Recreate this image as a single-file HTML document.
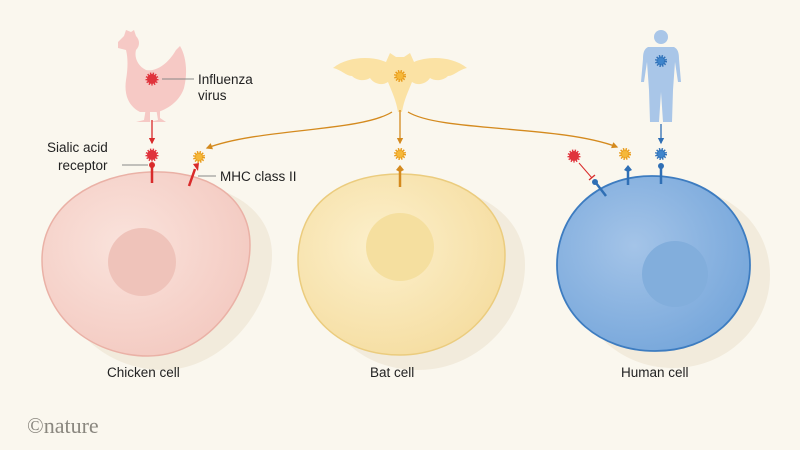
<!DOCTYPE html>
<html><head><meta charset="utf-8"><style>
html,body{margin:0;padding:0;background:#faf7ee;}
svg{display:block;}
text{font-family:"Liberation Sans",sans-serif;fill:#222;}
</style></head><body>
<svg width="800" height="450" viewBox="0 0 800 450" xmlns="http://www.w3.org/2000/svg">
<defs>
<radialGradient id="gc" cx="0.4" cy="0.4" r="0.7"><stop offset="0" stop-color="#fae3dc"/><stop offset="1" stop-color="#f3c8bf"/></radialGradient>
<radialGradient id="gb" cx="0.4" cy="0.4" r="0.7"><stop offset="0" stop-color="#fcf0cc"/><stop offset="1" stop-color="#f5dc9e"/></radialGradient>
<radialGradient id="gh" cx="0.4" cy="0.4" r="0.7"><stop offset="0" stop-color="#a4c4e8"/><stop offset="1" stop-color="#74a5da"/></radialGradient>
<marker id="ar" viewBox="0 0 10 10" refX="8" refY="5" markerWidth="5" markerHeight="5" orient="auto"><path d="M0,0L10,5L0,10z" fill="#d92b2b"/></marker>
<marker id="ao" viewBox="0 0 10 10" refX="8" refY="5" markerWidth="5" markerHeight="5" orient="auto"><path d="M0,0L10,5L0,10z" fill="#d48a1e"/></marker>
<marker id="abl" viewBox="0 0 10 10" refX="8" refY="5" markerWidth="5" markerHeight="5" orient="auto"><path d="M0,0L10,5L0,10z" fill="#2f6fb5"/></marker>
</defs>
<rect width="800" height="450" fill="#faf7ee"/>
<!-- shadows -->
<path d="M165,182 C220,180 272,205 272,255 C272,310 222,370 163,370 C105,370 57,325 57,270 C57,215 110,184 165,182Z" fill="#f2ebdc"/>
<path d="M418,185 C478,185 525,215 525,265 C525,320 478,370 418,370 C358,370 316,325 316,270 C316,215 358,185 418,185Z" fill="#f2ebdc"/>
<path d="M670,186 C728,186 770,225 770,275 C770,325 728,368 673,368 C618,368 575,325 575,275 C575,225 613,186 670,186Z" fill="#f2ebdc"/>
<!-- chicken cell -->
<path d="M150,172 C205,170 250,195 250,245 C250,300 205,356 148,356 C90,356 42,315 42,260 C42,205 95,174 150,172Z" fill="url(#gc)" stroke="#eab1a6" stroke-width="1.5"/>
<circle cx="142" cy="262" r="34" fill="#efc3ba"/>
<!-- bat cell -->
<path d="M400,174 C460,174 505,205 505,255 C505,310 460,355 400,355 C340,355 298,315 298,260 C298,205 340,174 400,174Z" fill="url(#gb)" stroke="#ebcc7e" stroke-width="1.5"/>
<circle cx="400" cy="247" r="34" fill="#f5df9f"/>
<!-- human cell -->
<path d="M652,176 C710,176 750,215 750,265 C750,315 710,351 655,351 C600,351 557,315 557,265 C557,215 595,176 652,176Z" fill="url(#gh)" stroke="#3d7cc0" stroke-width="1.8"/>
<circle cx="675" cy="274" r="33" fill="#82aedc"/>
<!-- chicken silhouette -->
<g fill="#f6c9c5">
<path d="M118,42 L124,36 L126,30 L131,32 L134,30 L136,36 C140,40 140,46 136,50 C134,58 138,66 146,70 C156,72 168,64 176,50 L180,46 C186,56 188,72 184,88 C180,100 170,108 158,112 L140,112 C128,106 124,94 126,80 C128,68 128,58 126,50 L118,48Z"/>
<path d="M146,108 L144,120 L136,122 L150,122 L150,108Z M156,108 L158,120 L150,122 L166,122 L160,118 L160,108Z"/>
</g>
<!-- bat -->
<path d="M333,68 C348,56 372,56 386,62 L390,53 L396,57 L404,57 L410,53 L414,62 C428,56 452,56 467,68 C458,70 454,76 448,76 C444,80 436,82 430,78 C426,84 418,86 412,82 C408,92 404,100 402,112 L398,112 C396,100 392,92 388,82 C382,86 374,84 370,78 C364,82 356,80 352,76 C346,76 342,70 333,68Z" fill="#fbe2a4"/>
<!-- human -->
<g fill="#a9c6e8">
<circle cx="661" cy="37" r="7"/>
<path d="M648,47 L674,47 C678,49 679,53 679,59 L681,82 L678,82 L675,62 L673,90 L672,122 L663,122 L661,92 L659,122 L650,122 L649,90 L647,62 L644,82 L641,82 L643,59 C643,53 644,49 648,47Z"/>
</g>
<!-- viruses -->
<g>
<circle cx="152" cy="79" r="5" fill="#e0333c" stroke="#e0333c" stroke-width="3" stroke-dasharray="1.2 1.2"/>
<circle cx="152" cy="155" r="5" fill="#e0333c" stroke="#e0333c" stroke-width="3" stroke-dasharray="1.2 1.2"/>
<circle cx="199" cy="157" r="4.5" fill="#f5b83a" stroke="#e89a1a" stroke-width="3" stroke-dasharray="1.2 1.2"/>
<circle cx="400" cy="76" r="4.5" fill="#f5b83a" stroke="#e89a1a" stroke-width="3" stroke-dasharray="1.2 1.2"/>
<circle cx="400" cy="154" r="4.5" fill="#f5b83a" stroke="#e89a1a" stroke-width="3" stroke-dasharray="1.2 1.2"/>
<circle cx="574" cy="156" r="5" fill="#e0333c" stroke="#e0333c" stroke-width="3" stroke-dasharray="1.2 1.2"/>
<circle cx="625" cy="154" r="4.5" fill="#f5b83a" stroke="#e89a1a" stroke-width="3" stroke-dasharray="1.2 1.2"/>
<circle cx="661" cy="154" r="4.5" fill="#3f85cc" stroke="#2f6fb5" stroke-width="3" stroke-dasharray="1.2 1.2"/>
<circle cx="661" cy="61" r="4.5" fill="#3f85cc" stroke="#2f6fb5" stroke-width="3" stroke-dasharray="1.2 1.2"/>
</g>
<!-- arrows -->
<line x1="152" y1="120" x2="152" y2="143" stroke="#d92b2b" stroke-width="1.3" marker-end="url(#ar)"/>
<line x1="400" y1="110" x2="400" y2="143" stroke="#d48a1e" stroke-width="1.3" marker-end="url(#ao)"/>
<line x1="661" y1="124" x2="661" y2="143" stroke="#2f6fb5" stroke-width="1.3" marker-end="url(#abl)"/>
<path d="M392,112 C360,132 260,128 207,148" fill="none" stroke="#d48a1e" stroke-width="1.3" marker-end="url(#ao)"/>
<path d="M408,112 C440,132 560,125 617,147" fill="none" stroke="#d48a1e" stroke-width="1.3" marker-end="url(#ao)"/>
<!-- receptors -->
<line x1="152" y1="166" x2="152" y2="183" stroke="#d92b2b" stroke-width="2.5"/><circle cx="152" cy="165" r="3" fill="#d92b2b"/>
<line x1="189" y1="186" x2="195" y2="169" stroke="#d92b2b" stroke-width="2.5"/><path d="M193,164 L199,163 L198,171Z" fill="#d92b2b"/>
<line x1="400" y1="171" x2="400" y2="187" stroke="#d48a1e" stroke-width="2.5"/><path d="M396,170 L400,165 L404,170 L400,172Z" fill="#d48a1e"/>
<line x1="606" y1="196" x2="596" y2="183" stroke="#2f6fb5" stroke-width="2.5"/><circle cx="595" cy="182" r="3" fill="#2f6fb5"/>
<line x1="579" y1="163" x2="592" y2="178" stroke="#d92b2b" stroke-width="1"/><line x1="589" y1="180" x2="595" y2="175" stroke="#d92b2b" stroke-width="1.3"/>
<line x1="628" y1="170" x2="628" y2="185" stroke="#2f6fb5" stroke-width="2.5"/><path d="M624,170 L628,165 L632,170 L628,172Z" fill="#2f6fb5"/>
<line x1="661" y1="167" x2="661" y2="184" stroke="#2f6fb5" stroke-width="2.5"/><circle cx="661" cy="166" r="3" fill="#2f6fb5"/>
<!-- leader lines -->
<line x1="162" y1="79" x2="194" y2="79" stroke="#888" stroke-width="1"/>
<line x1="122" y1="165" x2="148" y2="165" stroke="#888" stroke-width="1"/>
<line x1="198" y1="176" x2="216" y2="176" stroke="#888" stroke-width="1"/>
<!-- labels -->
<g font-size="13.5">
<text x="198" y="84">Influenza</text>
<text x="198" y="100">virus</text>
<text x="47" y="152">Sialic acid</text>
<text x="58" y="170">receptor</text>
<text x="220" y="181">MHC class II</text>
<text x="107" y="377">Chicken cell</text>
<text x="370" y="377">Bat cell</text>
<text x="621" y="377">Human cell</text>
</g>
<text x="27" y="433" font-size="22" style="fill:#8a877f;font-family:'Liberation Serif',serif">©nature</text>
</svg>
</body></html>
